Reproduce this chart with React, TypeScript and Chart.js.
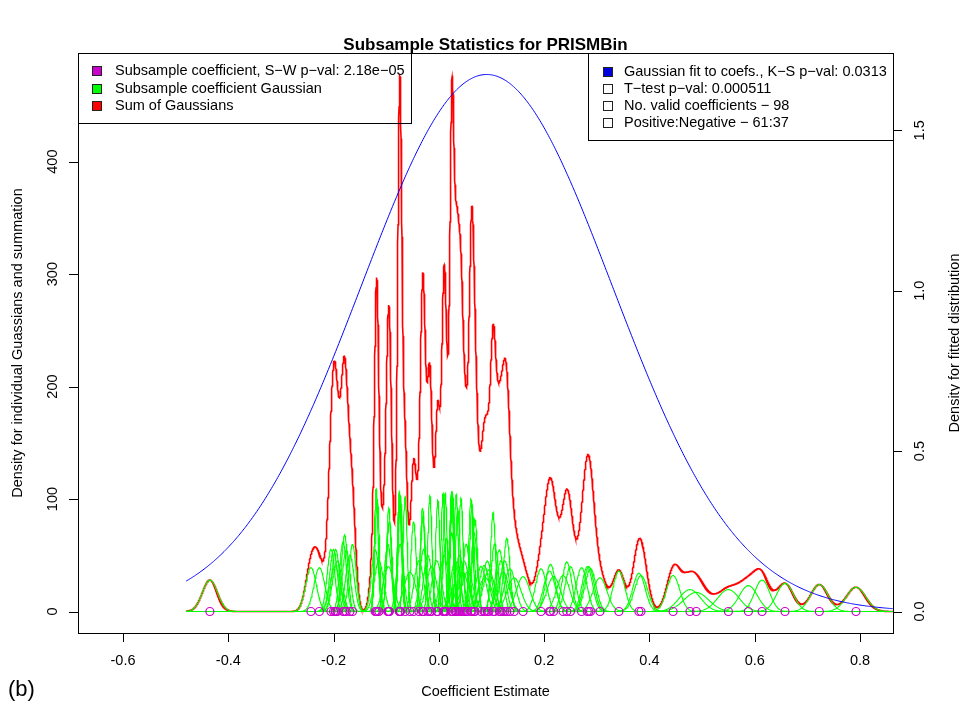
import React, { useEffect, useRef } from "react";
import { Chart, registerables } from "chart.js";

Chart.register(...registerables);

// ---- data ----
// subsample coefficient estimates (magenta circles / Gaussian centres)
const coefficientEstimates = [
  -0.435, -0.243, -0.227, -0.205, -0.2, -0.197, -0.196, -0.193, -0.182, -0.179,
  -0.176, -0.169, -0.164, -0.121, -0.119, -0.117, -0.114, -0.097, -0.096, -0.095,
  -0.094, -0.075, -0.0745, -0.074, -0.0735, -0.073, -0.064, -0.055, -0.048, -0.038,
  -0.031, -0.03, -0.029, -0.021, -0.017, -0.014, -0.004, -0.002,
  0.008, 0.01, 0.012, 0.014, 0.024, 0.0245, 0.025, 0.026, 0.031, 0.033,
  0.036, 0.039, 0.042, 0.045, 0.048, 0.052, 0.054, 0.061, 0.063,
  0.067, 0.0686, 0.08, 0.086, 0.088, 0.092, 0.095, 0.103, 0.106,
  0.115, 0.118, 0.122, 0.125, 0.129, 0.135, 0.143,
  0.16, 0.194, 0.21, 0.212, 0.218, 0.236, 0.243, 0.25, 0.271, 0.282,
  0.285, 0.288, 0.306, 0.342, 0.38, 0.384, 0.445, 0.477, 0.489, 0.55,
  0.588, 0.614, 0.6575, 0.7227, 0.7924,
];
// peak density of each coefficient's Gaussian (left axis)
const gaussianPeakDensity = [
  28, 39, 39, 55, 55, 40, 55, 45, 62, 68,
  55, 50, 60, 55, 109, 100, 45, 60, 40, 92,
  80, 107, 95, 104, 60, 102, 102, 35, 80, 45,
  92, 85, 55, 50, 103, 40, 45, 99,
  105, 50, 105, 65, 107, 70, 106, 104, 45, 104,
  90, 50, 101, 35, 45, 60, 35, 100, 95,
  70, 82, 40, 41, 30, 45, 37, 88, 60,
  55, 45, 35, 45, 65, 38, 30,
  31, 38, 36, 42, 31, 32, 44, 40, 39, 40,
  40, 38, 30, 36, 34, 32, 32, 19.5, 17, 19.5,
  23, 28, 25, 24, 21.6,
];
// Gaussian fit to the coefficients (right axis)
const fitMean = 0.091;
const fitPeakDensity = 1.674;

const xTickValues = [-0.6, -0.4, -0.2, 0.0, 0.2, 0.4, 0.6, 0.8];
const xTickLabels = ["-0.6", "-0.4", "-0.2", "0.0", "0.2", "0.4", "0.6", "0.8"];
const leftTickValues = [0, 100, 200, 300, 400];
const leftTickLabels = ["0", "100", "200", "300", "400"];
const rightTickValues = [0, 0.5, 1.0, 1.5];
const rightTickLabels = ["0.0", "0.5", "1.0", "1.5"];

const leftLegendLabels = [
  "Subsample coefficient, S\u2212W p\u2212val: 2.18e\u221205",
  "Subsample coefficient Gaussian",
  "Sum of Gaussians",
];
const rightLegendLabels = [
  "Gaussian fit to coefs., K\u2212S p\u2212val: 0.0313",
  "T\u2212test p\u2212val: 0.000511",
  "No. valid coefficients \u2212 98",
  "Positive:Negative \u2212 61:37",
];

const TITLE = "Subsample Statistics for PRISMBin";
const X_TITLE = "Coefficient Estimate";
const Y_TITLE = "Density for individual Guassians and summation";
const Y2_TITLE = "Density for fitted distribution";

// axis ranges & curve domain
const X_MIN = -0.6855;
const X_MAX = 0.8627;
const Y_MIN = -19.1;
const Y_MAX = 496.6;
const Y2_MIN = -0.067;
const Y2_MAX = 1.741;
const CURVE_START = -0.48;
const CURVE_END = 0.8627;

// ---- helpers ----
const SQRT2PI = Math.sqrt(2 * Math.PI);
function gaussianAt(x: number, mean: number, peak: number) {
  const sd = 1 / (peak * SQRT2PI);
  const z = (x - mean) / sd;
  return peak * Math.exp(-0.5 * z * z);
}

function buildDatasets() {
  const datasets: any[] = [];
  const step = 0.00025;
  const n = Math.round((CURVE_END - CURVE_START) / step);
  const sum: { x: number; y: number }[] = [];
  for (let i = 0; i <= n; i++) {
    const x = CURVE_START + i * step;
    let y = 0;
    for (let k = 0; k < coefficientEstimates.length; k++) {
      y += gaussianAt(x, coefficientEstimates[k], gaussianPeakDensity[k]);
    }
    sum.push({ x, y });
  }
  const greens: any[] = [];
  coefficientEstimates.forEach((c, k) => {
    const peak = gaussianPeakDensity[k];
    const sd = 1 / (peak * SQRT2PI);
    const pts: { x: number; y: number }[] = [{ x: CURVE_START, y: 0 }];
    const m = 80;
    for (let i = 0; i <= m; i++) {
      const x = c - 5 * sd + (10 * sd * i) / m;
      if (x > CURVE_START && x < CURVE_END) pts.push({ x, y: gaussianAt(x, c, peak) });
    }
    pts.push({ x: CURVE_END, y: 0 });
    greens.push({
      type: "line",
      data: pts,
      borderColor: "#00FF00",
      borderWidth: 1.1,
      pointRadius: 0,
      fill: false,
      yAxisID: "y",
      order: 2,
    });
  });
  const fitSd = 1 / (fitPeakDensity * SQRT2PI);
  const blue: { x: number; y: number }[] = [];
  const bStep = 0.002;
  const bn = Math.round((CURVE_END - CURVE_START) / bStep);
  for (let i = 0; i <= bn; i++) {
    const x = CURVE_START + i * bStep;
    const z = (x - fitMean) / fitSd;
    blue.push({ x, y: fitPeakDensity * Math.exp(-0.5 * z * z) });
  }

  datasets.push({
    type: "scatter",
    data: coefficientEstimates.map((c) => ({ x: c, y: 0 })),
    showLine: false,
    pointStyle: "circle",
    pointRadius: 4,
    pointBorderWidth: 1.2,
    pointBorderColor: "#CD00CD",
    pointBackgroundColor: "rgba(0,0,0,0)",
    yAxisID: "y",
    order: 0,
  });
  datasets.push({
    type: "line",
    data: blue,
    borderColor: "#0000FF",
    borderWidth: 1,
    pointRadius: 0,
    fill: false,
    yAxisID: "y2",
    order: 1,
  });
  datasets.push(...greens);
  datasets.push({
    type: "line",
    data: sum,
    borderColor: "#FF0000",
    borderWidth: 1.6,
    pointRadius: 0,
    fill: false,
    yAxisID: "y",
    order: 3,
  });
  return datasets;
}

const FONT = '"Liberation Sans", Arial, Helvetica, sans-serif';

function rotatedText(ctx: CanvasRenderingContext2D, text: string, x: number, y: number) {
  ctx.save();
  ctx.translate(x, y);
  ctx.rotate(-Math.PI / 2);
  ctx.textAlign = "center";
  ctx.textBaseline = "middle";
  ctx.fillText(text, 0, 0);
  ctx.restore();
}

const rPlotPlugin = {
  id: "rPlot",
  afterDraw(chart: any) {
    const ctx: CanvasRenderingContext2D = chart.ctx;
    const { left, right, top, bottom } = chart.chartArea;
    const xs = chart.scales.x;
    const ys = chart.scales.y;
    const ys2 = chart.scales.y2;
    ctx.save();
    ctx.strokeStyle = "#000";
    ctx.fillStyle = "#000";
    ctx.lineWidth = 1;
    ctx.strokeRect(Math.round(left) + 0.5, Math.round(top) + 0.5, Math.round(right - left), Math.round(bottom - top));
    const tick = 9;
    ctx.font = `14.5px ${FONT}`;
    ctx.beginPath();
    xTickValues.forEach((v) => {
      const px = Math.round(xs.getPixelForValue(v)) + 0.5;
      ctx.moveTo(px, bottom);
      ctx.lineTo(px, bottom + tick);
    });
    ctx.stroke();
    ctx.textAlign = "center";
    ctx.textBaseline = "middle";
    xTickValues.forEach((v, i) => {
      ctx.fillText(xTickLabels[i], xs.getPixelForValue(v), 661);
    });
    ctx.beginPath();
    leftTickValues.forEach((v) => {
      const py = Math.round(ys.getPixelForValue(v)) + 0.5;
      ctx.moveTo(left, py);
      ctx.lineTo(left - tick, py);
    });
    ctx.stroke();
    leftTickValues.forEach((v, i) => rotatedText(ctx, leftTickLabels[i], 53, ys.getPixelForValue(v)));
    ctx.beginPath();
    rightTickValues.forEach((v) => {
      const py = Math.round(ys2.getPixelForValue(v)) + 0.5;
      ctx.moveTo(right, py);
      ctx.lineTo(right + tick, py);
    });
    ctx.stroke();
    rightTickValues.forEach((v, i) => rotatedText(ctx, rightTickLabels[i], 920, ys2.getPixelForValue(v)));
    const cx = (left + right) / 2;
    const cy = (top + bottom) / 2;
    ctx.fillText(X_TITLE, cx, 692);
    rotatedText(ctx, Y_TITLE, 17.5, cy);
    rotatedText(ctx, Y2_TITLE, 955, cy);
    ctx.font = `bold 17px ${FONT}`;
    ctx.fillText(TITLE, cx, 45);
    ctx.font = `22px ${FONT}`;
    ctx.textAlign = "left";
    ctx.fillText("(b)", 8, 690);

    ctx.font = `14.5px ${FONT}`;
    ctx.textAlign = "left";
    const L = Math.round(left) + 0.5;
    const T = Math.round(top) + 0.5;
    ctx.strokeRect(L, T, 333, 70);
    const leftColors = ["#CC00CC", "#00FF00", "#FF0000"];
    leftLegendLabels.forEach((lab, i) => {
      const y = 71 + i * 17.5;
      ctx.fillStyle = leftColors[i];
      ctx.fillRect(92, Math.round(y) - 5, 10, 10);
      ctx.strokeStyle = "#222";
      ctx.strokeRect(92.5, Math.round(y) - 4.5, 9, 9);
      ctx.fillStyle = "#000";
      ctx.fillText(lab, 115, y);
    });
    ctx.strokeStyle = "#000";
    ctx.strokeRect(588.5, T, Math.round(right) - 588, 87);
    const rightColors = ["#0000DD", "#FFFFFF", "#FFFFFF", "#FFFFFF"];
    rightLegendLabels.forEach((lab, i) => {
      const y = 71.5 + i * 17;
      ctx.fillStyle = rightColors[i];
      ctx.fillRect(603, Math.round(y) - 5, 10, 10);
      ctx.strokeStyle = "#222";
      ctx.strokeRect(603.5, Math.round(y) - 4.5, 9, 9);
      ctx.fillStyle = "#000";
      ctx.fillText(lab, 624, y);
    });
    ctx.restore();
  },
};

export default function App() {
  const canvasRef = useRef<HTMLCanvasElement | null>(null);
  useEffect(() => {
    const canvas = canvasRef.current;
    if (!canvas) return;
    const chart = new Chart(canvas, {
      type: "line",
      data: { datasets: buildDatasets() },
      options: {
        animation: false,
        responsive: false,
        devicePixelRatio: 1,
        parsing: false,
        normalized: true,
        layout: { padding: { top: 53, left: 0, right: 0, bottom: 0 } },
        plugins: {
          legend: { display: false },
          tooltip: { enabled: false },
          title: { display: false },
        },
        elements: { line: { tension: 0 } },
        scales: {
          x: {
            type: "linear",
            min: X_MIN,
            max: X_MAX,
            position: "bottom",
            grid: { display: false },
            border: { display: false },
            ticks: { display: false },
            afterFit: (s: any) => {
              s.height = 74;
            },
          },
          y: {
            type: "linear",
            min: Y_MIN,
            max: Y_MAX,
            position: "left",
            grid: { display: false },
            border: { display: false },
            ticks: { display: false },
            afterFit: (s: any) => {
              s.width = 78;
            },
          },
          y2: {
            type: "linear",
            min: Y2_MIN,
            max: Y2_MAX,
            position: "right",
            grid: { display: false },
            border: { display: false },
            ticks: { display: false },
            afterFit: (s: any) => {
              s.width = 67;
            },
          },
        },
      } as any,
      plugins: [rPlotPlugin],
    });
    return () => chart.destroy();
  }, []);
  return (
    <div style={{ position: "fixed", left: 0, top: 0, width: 960, height: 707, background: "#fff" }}>
      <canvas ref={canvasRef} width={960} height={707} style={{ display: "block", width: 960, height: 707 }} />
    </div>
  );
}
